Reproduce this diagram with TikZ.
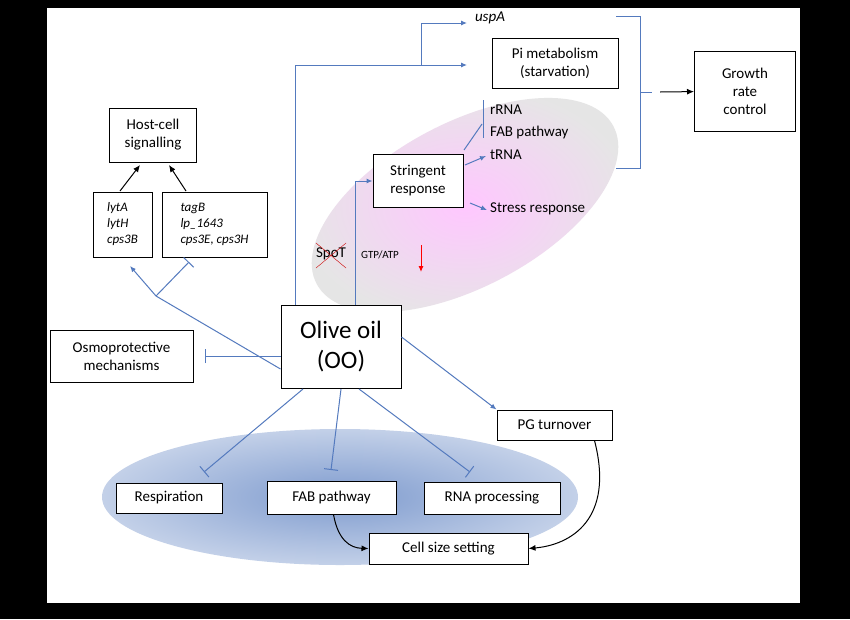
\documentclass[tikz,border=0pt]{standalone}
\usepackage{fontspec}
\setmainfont{Carlito}
\usetikzlibrary{arrows.meta,shapes.geometric}
\definecolor{bl}{RGB}{84,122,190}
\tikzset{box/.style={draw,line width=1pt,fill=white,align=center,inner sep=3pt,font=\fontsize{15}{18}\selectfont},
lab/.style={font=\fontsize{15}{18}\selectfont,inner sep=1pt},
bc/.style={draw=bl,line width=1pt,-{Latex[length=6pt,width=5pt]}},
inh/.style={draw=bl,line width=1pt,-{Bar[width=14pt]}},
kc/.style={draw,line width=1pt,-{Latex[length=7pt,width=6pt]}}}
\begin{document}
\begin{tikzpicture}[x=1pt,y=-1pt]
\fill[black](0,0) rectangle (850,619);
\fill[white](47,8) rectangle (800,603);
\useasboundingbox (0,0) rectangle (850,619);
% ellipses
\shade[inner color=magenta!22,outer color=black!10,rotate around={28:(465,205)}] (465,205) ellipse [x radius=168,y radius=82];
\shade[inner color=bl!75,outer color=bl!35] (340,497) ellipse [x radius=238,y radius=68];
% nodes
\node[lab,font=\fontsize{15}{18}\selectfont\itshape] (usp) at (490,18) {uspA};
\node[box,minimum width=126,minimum height=50] (pi) at (555,63) {Pi metabolism\\(starvation)};
\node[box,minimum width=101,minimum height=80] (gr) at (745,91) {Growth\\rate\\control};
\node[lab,anchor=west] (rrna) at (489,110) {rRNA};
\node[lab,anchor=west] (fab1) at (489,132) {FAB pathway};
\node[lab,anchor=west] (trna) at (489,155) {tRNA};
\node[lab,anchor=west] (stress) at (489,209) {Stress response};
\node[box,minimum width=90,minimum height=53] (sr) at (418,181) {Stringent\\response};
\node[lab] (spot) at (331,254) {SpoT};
\draw[red!80!black,thin] (316,243)--(346,268) (316,268)--(346,243);
\node[lab,font=\fontsize{11}{13}\selectfont] (gtp) at (380,255) {GTP/ATP};
\coordinate (ra) at (421,245); \coordinate (rb) at (421,272);
\draw[red,line width=1pt,-{Latex[length=6pt,width=5pt]}] (ra)--(rb);
\node[box,minimum width=120,minimum height=83,font=\fontsize{25}{30}\selectfont] (oo) at (341,347) {Olive oil\\(OO)};
\node[box,minimum width=87,minimum height=54] (hc) at (153,135) {Host-cell\\signalling};
\node[box,minimum width=59,minimum height=65,align=left,font=\fontsize{13}{16}\selectfont\itshape] (ly) at (122.5,224.5) {lytA\\lytH\\cps3B};
\node[box,minimum width=105,minimum height=65,align=left,font=\fontsize{13}{16}\selectfont\itshape] (tg) at (214.5,224.5) {tagB\\lp\_1643\\cps3E, cps3H};
\node[box,minimum width=143,minimum height=52] (os) at (121.5,356) {Osmoprotective\\mechanisms};
\node[box,minimum width=115,minimum height=30] (pg) at (554.5,425) {PG turnover};
\node[box,minimum width=106,minimum height=30] (re) at (169,498) {Respiration};
\node[box,minimum width=129,minimum height=33] (fab) at (331.5,497.5) {FAB pathway};
\node[box,minimum width=136,minimum height=32] (rp) at (492,498) {RNA processing};
\node[box,minimum width=159,minimum height=31] (cs) at (448.5,548.5) {Cell size setting};
% bracket
\coordinate (b1) at (616,16); \coordinate (b2) at (616,168); \coordinate (bt) at (652,92);
\draw[bl,line width=1pt] (b1)--(640,16)--(640,168)--(b2) (640,92)--(bt);
\draw[kc] (660,92)--(gr);
% blue connectors
\coordinate (jn) at (421,65);
\draw[bc] ([xshift=-46]oo.north) |- (467,65) coordinate (pe);
\draw[bc] (jn) |- (467,23);
\draw[bc] ([xshift=14]oo.north) |- (sr.west);
\draw[bc] (465,165)--(486,156);
\draw[bc] (470,203)--(487,210);
\draw[bl,line width=1pt] (464,150)--(482,124);
\draw[bl,line width=1pt] (483,100)--(483,138);
\coordinate (fk) at (156,296);
\draw[bl,line width=1pt] ([yshift=-22]oo.west)--(fk);
\draw[bc] (fk)--(130,266);
\draw[inh] (fk)--(189,262);
\coordinate (oe) at (205,356);
\draw[inh] (oo.west|-os.east)--(oe);
\coordinate (e1) at (204,472); \coordinate (e2) at (331,470); \coordinate (e3) at (470,472);
\draw[inh] ([xshift=-38]oo.south)--(e1);
\draw[inh] (oo.south)--(e2);
\draw[inh] ([xshift=18]oo.south)--(e3);
\draw[bc] ([yshift=10]oo.east)--(pg.north west);
% black
\draw[kc] (120,191)--(140,165);
\draw[kc] (186,191)--(169,165);
\draw[kc] ([xshift=40]pg.south) .. controls (615,520) and (570,545) .. (cs.east);
\draw[kc] ([xshift=2]fab.south) .. controls (338,540) and (350,548) .. (cs.west);
\end{tikzpicture}
\end{document}
